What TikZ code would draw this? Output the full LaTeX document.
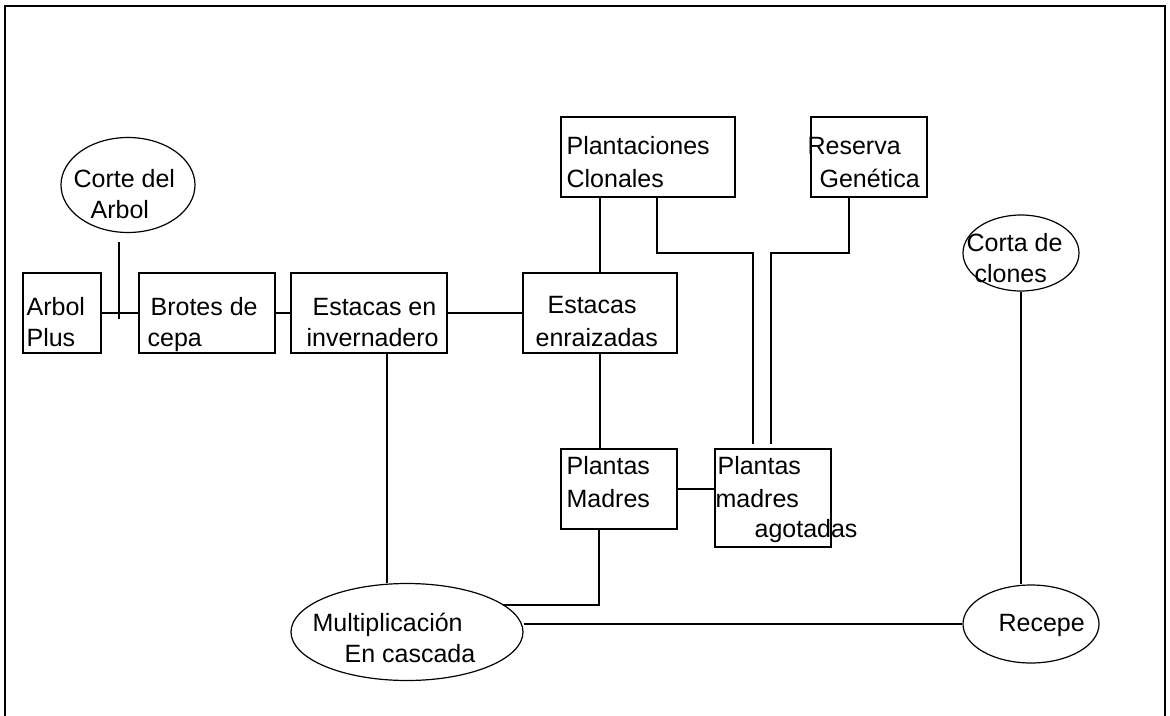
\documentclass[tikz,border=0pt]{standalone}
\usepackage{fontspec}
\setmainfont{Liberation Sans}
\usetikzlibrary{shapes.geometric}
\begin{document}
\begin{tikzpicture}[x=1pt,y=-1pt,line width=1.2pt,
  box/.style={draw,rectangle,inner sep=0pt,minimum width=#1,minimum height=80pt},
  oval/.style={draw,ellipse,inner sep=0pt},
  lbl/.style={anchor=base west,inner sep=0pt,font=\fontsize{25}{32}\selectfont}]
\useasboundingbox (0,0) rectangle (1170,715);
% outer frame (open at the bottom)
\draw (5,725) -- (5,6) -- (1165,6) -- (1165,725);

% boxes
\node[box=78pt]  (arbol)  at (62,313)  {};
\node[box=136pt] (brotes) at (207,313) {};
\node[box=156pt] (estinv) at (369,313) {};
\node[box=154pt] (estenr) at (600,313) {};
\node[box=174pt] (plc)    at (648,157) {};
\node[box=116pt] (res)    at (869,157) {};
\node[box=116pt] (pmad)   at (619,489) {};
\node[box=116pt,minimum height=98pt] (pago) at (773,498) {};

% ellipses
\node[oval,minimum width=134pt,minimum height=95pt] (corte)  at (128,185)  {};
\node[oval,minimum width=232pt,minimum height=97pt] (mult)   at (407,632)  {};
\node[oval,minimum width=136pt,minimum height=78pt] (recepe) at (1031,624) {};
\node[oval,minimum width=116pt,minimum height=76pt] (corta)  at (1021,253) {};

% labels
\node[lbl] (t1) at (73,187)  {Corte del};
\node[lbl] (t2) at (90,218)  {Arbol};
\node[lbl] (t3) at (26,315)  {Arbol};
\node[lbl] (t4) at (26,346)  {Plus};
\node[lbl] (t5) at (150,315) {Brotes de};
\node[lbl] (t6) at (147,346) {cepa};
\node[lbl] (t7) at (312,315) {Estacas en};
\node[lbl] (t8) at (306,346) {invernadero};
\node[lbl] (t9) at (547,313) {Estacas};
\node[lbl] (t10) at (535,346) {enraizadas};
\node[lbl] (t11) at (566,154) {Plantaciones};
\node[lbl] (t12) at (566,187) {Clonales};
\node[lbl] (t13) at (807,154) {Reserva};
\node[lbl] (t14) at (819,187) {Genética};
\node[lbl] (t15) at (566,474) {Plantas};
\node[lbl] (t16) at (566,507) {Madres};
\node[lbl] (t17) at (717,474) {Plantas};
\node[lbl] (t18) at (715,507) {madres};
\node[lbl] (t19) at (754,537) {agotadas};
\node[lbl] (t20) at (312,631) {Multiplicación};
\node[lbl] (t21) at (344,662) {En cascada};
\node[lbl] (t22) at (998,631) {Recepe};
\node[lbl] (t23) at (966,251) {Corta de};
\node[lbl] (t24) at (974,282) {clones};

% free ends and bends
\coordinate (cutTop) at (119,242);
\coordinate (cutBot) at (119,319);
\coordinate (pcBend) at (753,253);
\coordinate (rgBend) at (771,253);
\coordinate (mmEnd)  at (503,605);

% connectors
\draw (cutTop) -- (cutBot);
\draw (arbol.east) -- (brotes.west);
\draw (brotes.east) -- (estinv.west);
\draw (estinv.east) -- (estenr.west);
\draw (estenr.north) -- (estenr.north |- plc.south);
\draw (estenr.south) -- (estenr.south |- pmad.north);
\draw ([xshift=9pt]plc.south) |- (pcBend) -- ([shift={(-20,-4)}]pago.north);
\draw ([xshift=-20pt]res.south) |- (rgBend) -- ([shift={(-2,-4)}]pago.north);
\draw (pmad.east) -- (pmad.east -| pago.west);
\draw ([xshift=-20pt]pmad.south) |- (mmEnd);
\draw ([xshift=18pt]estinv.south) -- ([xshift=18pt]estinv.south |- mult.north);
\draw (mult.east |- recepe.west) -- (recepe.west);
\draw (corta.south) -- (corta.south |- recepe.north);
\end{tikzpicture}
\end{document}
